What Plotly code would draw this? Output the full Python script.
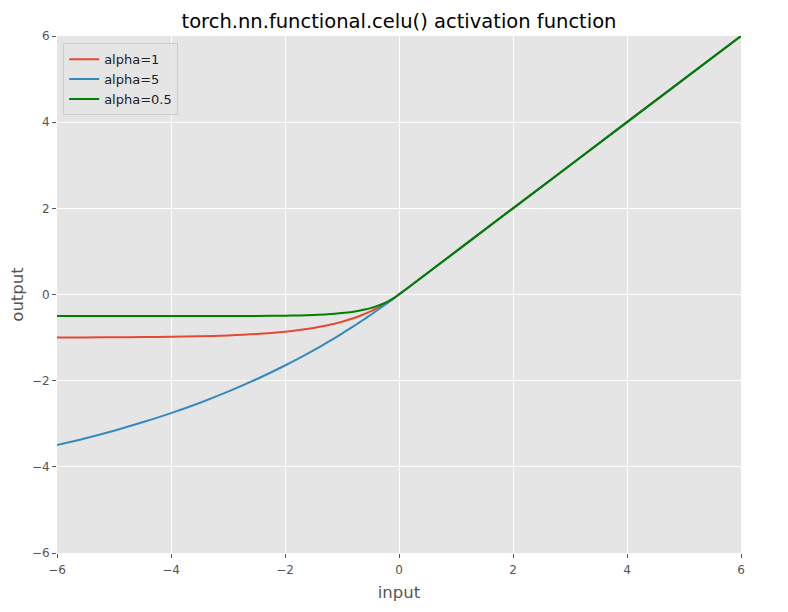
import plotly.graph_objects as go

x_input = [-6, -5.5, -5, -4.5, -4, -3.5, -3, -2.5, -2, -1.75, -1.5, -1.25,
           -1, -0.9, -0.8, -0.7, -0.6, -0.5, -0.4, -0.3, -0.2, -0.1, 0.1, 2, 4, 6]

# Output for alpha=1
y_alpha1 = [-0.9975, -0.9959, -0.9933, -0.9889, -0.9817, -0.9698, -0.9502, -0.9179,
            -0.8647, -0.8262, -0.7769, -0.7135, -0.6321, -0.5934, -0.5507, -0.5034,
            -0.4512, -0.3935, -0.3297, -0.2592, -0.1813, -0.0952, 0.1, 2, 4, 6]

# Output for alpha=5
y_alpha5 = [-3.494, -3.336, -3.161, -2.967, -2.753, -2.517, -2.256, -1.967,
            -1.648, -1.477, -1.296, -1.106, -0.906, -0.823, -0.739, -0.653,
            -0.565, -0.476, -0.384, -0.291, -0.196, -0.099, 0.1, 2, 4, 6]

# Output for alpha=0.5
y_alpha05 = [-0.5, -0.5, -0.5, -0.5, -0.5, -0.4995, -0.4988, -0.4966,
             -0.4908, -0.4849, -0.4751, -0.4590, -0.4323, -0.4174, -0.3991, -0.3767,
             -0.3494, -0.3161, -0.2753, -0.2256, -0.1648, -0.0906, 0.1, 2, 4, 6]

series_names = ["alpha=1", "alpha=5", "alpha=0.5"]
series_colors = ["#E24A33", "#348ABD", "#008000"]
tick_vals = [-6, -4, -2, 0, 2, 4, 6]

fig = go.Figure()
for name, ys, col in zip(series_names, [y_alpha1, y_alpha5, y_alpha05], series_colors):
    fig.add_trace(go.Scatter(x=x_input, y=ys, mode="lines", name=name,
                             line=dict(color=col, width=2, shape="spline", smoothing=0.8)))

axis_common = dict(
    range=[-6, 6], tickvals=tick_vals, showgrid=True, gridcolor="white", gridwidth=1,
    zeroline=False, showline=False, ticks="outside", ticklen=4, tickcolor="#555555",
    tickwidth=1, tickfont=dict(family="DejaVu Sans", size=12, color="#555555"),
)

W, H = 780, 604

fig.update_layout(
    width=W, height=H,
    margin=dict(l=49, r=47, t=28, b=59, autoexpand=False),
    paper_bgcolor="white", plot_bgcolor="#E5E5E5",
    font=dict(family="DejaVu Sans", color="#555555"),
    title=dict(text="torch.nn.functional.celu() activation function",
               font=dict(family="DejaVu Sans", size=19.5, color="#000000"),
               x=0.5, xanchor="center", xref="paper",
               y=1 - 13 / H, yref="container", yanchor="middle"),
    xaxis=dict(**axis_common, ticklabelstandoff=2,
               title=dict(text="input", standoff=10,
                          font=dict(family="DejaVu Sans", size=16.5, color="#555555"))),
    yaxis=dict(**axis_common,
               title=dict(text="output", standoff=9,
                          font=dict(family="DejaVu Sans", size=16.5, color="#555555"))),
    legend=dict(x=0.009, y=0.986, xanchor="left", yanchor="top",
                bgcolor="rgba(229,229,229,0.8)", bordercolor="#CCCCCC", borderwidth=1,
                font=dict(family="DejaVu Sans", size=13, color="#222222"),
                tracegroupgap=0, itemwidth=30),
    showlegend=True,
)

fig.write_html("out.html")
